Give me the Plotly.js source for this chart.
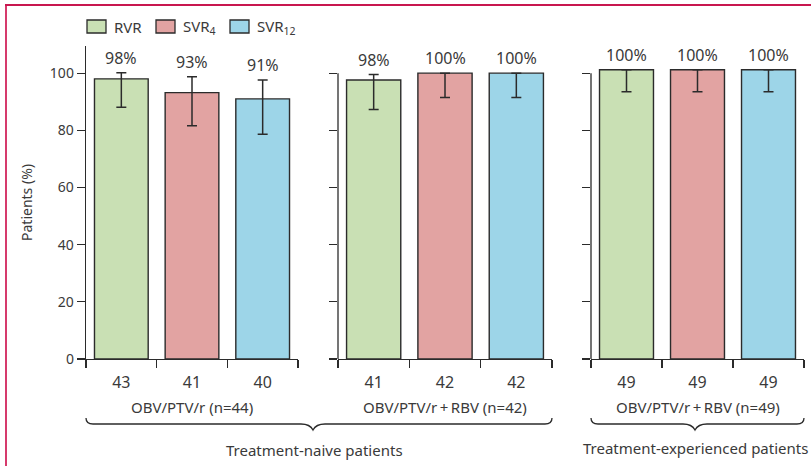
<!DOCTYPE html>
<html>
<head>
<meta charset="utf-8">
<script src="https://cdn.plot.ly/plotly-3.0.1.min.js"></script>
<style>html,body{margin:0;padding:0;background:#fff;}#chart{width:811px;height:466px;}</style>
</head>
<body>
<div id="chart"></div>
<script>
// ---- data ----
const seriesNames = ['RVR', 'SVR<sub>4</sub>', 'SVR<sub>12</sub>'];
const panel1Values = [98, 93.2, 91];
const panel1ErrHigh = [100.1, 98.7, 97.6];
const panel1ErrLow = [88.1, 81.6, 78.6];
const panel1Labels = ['98%', '93%', '91%'];
const panel1N = ['43', '41', '40'];
const panel2Values = [97.6, 100, 100];
const panel2ErrHigh = [99.5, 100, 100];
const panel2ErrLow = [87.3, 91.5, 91.5];
const panel2Labels = ['98%', '100%', '100%'];
const panel2N = ['41', '42', '42'];
const panel3Values = [101.2, 101.2, 101.2];
const panel3ErrHigh = [101.2, 101.2, 101.2];
const panel3ErrLow = [93.5, 93.5, 93.5];
const panel3Labels = ['100%', '100%', '100%'];
const panel3N = ['49', '49', '49'];
const regimenLabels = ['OBV/PTV/r (n=44)', 'OBV/PTV/r\u2009+\u2009RBV (n=42)', 'OBV/PTV/r\u2009+\u2009RBV (n=49)'];
const populationLabels = ['Treatment-naive patients', 'Treatment-experienced patients'];
const yTicks = [0, 20, 40, 60, 80, 100];
const yTitle = 'Patients (%)';

// ---- styles ----
const colors = ['#c9e0b4', '#e2a3a2', '#9dd5e8'];
const ink = '#2b2b2b';
const textColor = '#3a3a3a';
const font = 'Noto Sans, Open Sans, sans-serif';
const W = 811, H = 466, L = 86, R = 7, T = 46, B = 107;
const PW = W - L - R, PH = H - T - B;
const px = x => (x - L) / PW;
const py = y => (H - B - y) / PH;

const panels = [
  {v: panel1Values, hi: panel1ErrHigh, lo: panel1ErrLow, lab: panel1Labels, n: panel1N, ax: ''},
  {v: panel2Values, hi: panel2ErrHigh, lo: panel2ErrLow, lab: panel2Labels, n: panel2N, ax: '2'},
  {v: panel3Values, hi: panel3ErrHigh, lo: panel3ErrLow, lab: panel3Labels, n: panel3N, ax: '3'}
];
const domains = [[px(86), px(298)], [px(338), px(552)], [px(591), px(804)]];

const traces = [];
const annotations = [];
const shapes = [];
panels.forEach((p, pi) => {
  for (let s = 0; s < 3; s++) {
    traces.push({
      type: 'bar', x: [s], y: [p.v[s]], width: 0.76,
      xaxis: 'x' + p.ax, yaxis: 'y' + p.ax, showlegend: false,
      marker: {color: colors[s], line: {color: ink, width: 1.4}},
      error_y: {type: 'data', symmetric: false, array: [p.hi[s] - p.v[s]], arrayminus: [p.v[s] - p.lo[s]],
                color: ink, thickness: 1.5, width: 5},
      hoverinfo: 'skip'
    });
    annotations.push({
      xref: 'x' + p.ax, yref: 'y' + p.ax, x: s, y: p.hi[s], text: p.lab[s], showarrow: false,
      xanchor: 'center', yanchor: 'bottom', yshift: 2, font: {family: font, size: 16, color: textColor}
    });
  }
  annotations.push({
    xref: 'paper', yref: 'paper', x: (domains[pi][0] + domains[pi][1]) / 2, y: py(406.5),
    text: regimenLabels[pi], showarrow: false, yanchor: 'middle', xanchor: 'center',
    font: {family: font, size: 15, color: textColor}
  });
  if (pi > 0) {
    shapes.push({type: 'line', xref: 'x' + p.ax + ' domain', yref: 'y' + p.ax, x0: 0, x1: 0, y0: 0, y1: 100,
                 line: {color: ink, width: 1.3}});
  }
});

// legend (drawn manually)
const legendX = [87, 156, 230];
seriesNames.forEach((nm, i) => {
  shapes.push({type: 'rect', xref: 'paper', yref: 'paper', x0: px(legendX[i]), x1: px(legendX[i] + 19),
               y0: py(33), y1: py(20), fillcolor: colors[i], line: {color: ink, width: 1.3}});
  annotations.push({xref: 'paper', yref: 'paper', x: px(legendX[i] + 25), y: py(26.5), xanchor: 'left',
                    yanchor: 'middle', text: nm, showarrow: false, font: {family: font, size: 15, color: textColor}});
});

// braces
function brace(x0, x1, xm) {
  const yt = py(418), yf = py(424), yp = py(430);
  return `M${px(x0)},${yt} Q${px(x0)},${yf} ${px(x0 + 7)},${yf} L${px(xm - 12)},${yf} ` +
         `Q${px(xm - 3)},${yf} ${px(xm)},${yp} Q${px(xm + 3)},${yf} ${px(xm + 12)},${yf} ` +
         `L${px(x1 - 7)},${yf} Q${px(x1)},${yf} ${px(x1)},${yt}`;
}
shapes.push({type: 'path', xref: 'paper', yref: 'paper', path: brace(86, 552, 313), line: {color: ink, width: 1.3}});
shapes.push({type: 'path', xref: 'paper', yref: 'paper', path: brace(591, 804, 695), line: {color: ink, width: 1.3}});
annotations.push({xref: 'paper', yref: 'paper', x: px(314), y: py(450), xanchor: 'center', yanchor: 'middle',
                  text: populationLabels[0], showarrow: false, font: {family: font, size: 15, color: textColor}});
annotations.push({xref: 'paper', yref: 'paper', x: px(695), y: py(448), xanchor: 'center', yanchor: 'middle',
                  text: populationLabels[1], showarrow: false, font: {family: font, size: 15, color: textColor}});

// frame lines
const frame = '#c8174f';
shapes.push({type: 'line', xref: 'paper', yref: 'paper', x0: px(6), x1: px(6), y0: py(5), y1: py(470), line: {color: '#d63a6c', width: 2}});
shapes.push({type: 'line', xref: 'paper', yref: 'paper', x0: px(5), x1: px(815), y0: py(5), y1: py(5), line: {color: frame, width: 2}});

function xax(i) {
  return {
    domain: domains[i], anchor: 'y' + (i ? i + 1 : ''), range: [-0.5, 2.5], fixedrange: true,
    showline: true, linecolor: ink, linewidth: 1.3, showgrid: false, zeroline: false,
    tickmode: 'array', tickvals: [0, 1, 2], ticktext: panels[i].n,
    ticks: 'outside', ticklen: 8, tickcolor: 'rgba(0,0,0,0)',
    minor: {tickmode: 'array', tickvals: [-0.5, 0.5, 1.5, 2.5], ticks: 'outside', ticklen: 8, tickcolor: ink, tickwidth: 1.3},
    tickfont: {family: font, size: 16, color: textColor}
  };
}
function yax(i) {
  return {
    domain: [0, 1], anchor: 'x' + (i ? i + 1 : ''), range: [0, 109.5], fixedrange: true,
    showline: i === 0, linecolor: ink, linewidth: 1.3, showgrid: false, zeroline: false,
    tickmode: 'array', tickvals: yTicks, ticks: 'outside', ticklen: 8, tickcolor: ink, tickwidth: 1.3,
    showticklabels: i === 0, tickfont: {family: font, size: 14, color: textColor},
    title: i === 0 ? {text: yTitle, standoff: 14, font: {family: font, size: 14, color: textColor}} : undefined
  };
}

const layout = {
  width: W, height: H, margin: {l: L, r: R, t: T, b: B},
  paper_bgcolor: '#fff', plot_bgcolor: '#fff', showlegend: false,
  xaxis: xax(0), xaxis2: xax(1), xaxis3: xax(2),
  yaxis: yax(0), yaxis2: yax(1), yaxis3: yax(2),
  annotations: annotations, shapes: shapes, barmode: 'overlay'
};
Plotly.newPlot('chart', traces, layout, {displayModeBar: false, staticPlot: true});
</script>
</body>
</html>
